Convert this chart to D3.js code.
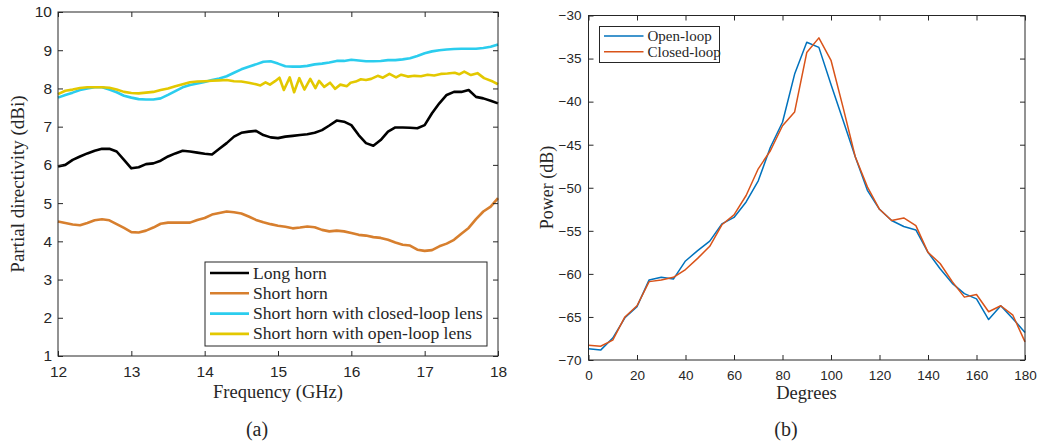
<!DOCTYPE html>
<meta charset="utf-8">
<style>
body { margin: 0; background: #fff; }
.tick text { font-family: "Liberation Sans", Arial, sans-serif; fill: #262626; }
.domain { display: none; }
.tick line { stroke: #262626; }
.lbl { font-family: "Liberation Serif", serif; fill: #262626; }
.line { fill: none; stroke-linejoin: round; }
</style>
<body>
<svg width="1037" height="445"></svg>
<script src="https://d3js.org/d3.v7.min.js"></script>
<script>

// ---- (a) partial directivity vs frequency
var freq = [12.0,12.1,12.2,12.3,12.4,12.5,12.6,12.7,12.8,12.9,
            13.0,13.1,13.2,13.3,13.4,13.5,13.6,13.7,13.8,13.9,
            14.0,14.1,14.2,14.3,14.4,14.5,14.6,14.7,14.8,14.9,
            15.0,15.1,15.2,15.3,15.4,15.5,15.6,15.7,15.8,15.9,
            16.0,16.1,16.2,16.3,16.4,16.5,16.6,16.7,16.8,16.9,
            17.0,17.1,17.2,17.3,17.4,17.5,17.6,17.7,17.8,17.9,18.0];

var longHorn = [5.96,6.00,6.13,6.22,6.30,6.37,6.42,6.42,6.35,6.13,
                5.91,5.94,6.02,6.04,6.11,6.22,6.30,6.37,6.35,6.32,
                6.29,6.27,6.42,6.57,6.74,6.84,6.87,6.89,6.78,6.72,
                6.70,6.74,6.76,6.78,6.80,6.84,6.91,7.03,7.16,7.13,
                7.04,6.78,6.57,6.50,6.65,6.87,6.98,6.98,6.97,6.96,
                7.04,7.35,7.61,7.83,7.91,7.91,7.96,7.78,7.74,7.68,7.61];

var shortHorn = [4.52,4.48,4.44,4.42,4.48,4.55,4.58,4.55,4.45,4.35,
                 4.24,4.23,4.28,4.36,4.46,4.49,4.49,4.49,4.49,4.56,
                 4.61,4.70,4.74,4.78,4.76,4.73,4.65,4.56,4.50,4.45,
                 4.41,4.38,4.34,4.36,4.39,4.37,4.30,4.26,4.28,4.26,
                 4.22,4.17,4.15,4.11,4.09,4.04,3.97,3.91,3.89,3.78,
                 3.75,3.77,3.87,3.94,4.04,4.20,4.35,4.58,4.78,4.91,5.13];

var closedLens = [7.76,7.83,7.89,7.96,8.00,8.03,8.03,7.97,7.90,7.81,
                  7.76,7.72,7.71,7.71,7.74,7.83,7.93,8.03,8.09,8.13,
                  8.17,8.22,8.26,8.32,8.41,8.50,8.57,8.63,8.70,8.71,
                  8.65,8.58,8.57,8.57,8.59,8.63,8.65,8.68,8.72,8.72,
                  8.75,8.73,8.71,8.71,8.72,8.74,8.74,8.76,8.79,8.85,
                  8.92,8.97,9.00,9.02,9.03,9.04,9.04,9.04,9.06,9.09,9.15];

// open-loop lens curve has its own, denser frequencies around the ripple
var freqOpen = [12.0,12.1,12.2,12.3,12.4,12.5,12.6,12.7,12.8,12.9,
                13.0,13.1,13.2,13.3,13.4,13.5,13.6,13.7,13.8,13.9,
                14.0,14.1,14.2,14.3,14.4,14.5,14.6,14.7,14.76,14.83,
                14.89,14.96,15.02,15.08,15.16,15.22,15.29,15.36,15.44,15.51,
                15.56,15.63,15.71,15.78,15.85,15.94,15.99,16.06,16.13,16.2,
                16.27,16.36,16.43,16.52,16.61,16.68,16.77,16.86,16.95,17.04,
                17.13,17.22,17.31,17.41,17.47,17.54,17.63,17.72,17.81,17.93,18.0];

var openLens = [7.85,7.94,7.97,8.01,8.03,8.03,8.03,8.02,7.97,7.91,
                7.88,7.87,7.89,7.91,7.96,8.00,8.06,8.11,8.16,8.18,
                8.19,8.20,8.21,8.22,8.19,8.18,8.15,8.11,8.08,8.16,
                8.10,8.19,8.28,7.96,8.29,7.90,8.27,7.97,8.25,8.01,
                8.20,8.04,8.15,7.99,8.10,8.06,8.15,8.18,8.24,8.22,
                8.25,8.33,8.28,8.38,8.29,8.36,8.31,8.33,8.32,8.36,
                8.34,8.38,8.39,8.41,8.37,8.44,8.35,8.40,8.27,8.18,8.11];

var namesA = ["Long horn", "Short horn", "Short horn with closed-loop lens", "Short horn with open-loop lens"];
var colorsA = ["#000000", "#D77F2E", "#2BCDEE", "#E3C800"];

// ---- (b) power vs angle
var degrees = [0,5,10,15,20,25,30,35,40,45,50,55,60,65,70,75,80,85,90,
               95,100,105,110,115,120,125,130,135,140,145,150,155,160,165,170,175,180];

var openLoop = [-68.7,-68.85,-67.45,-65.1,-63.8,-60.7,-60.4,-60.6,-58.5,-57.3,-56.2,-54.2,-53.45,
                -51.65,-49.2,-45.3,-42.4,-36.8,-33.1,-33.7,-38.0,-42.2,-46.4,-50.3,-52.5,
                -53.8,-54.5,-54.9,-57.5,-59.4,-61.1,-62.3,-62.9,-65.3,-63.7,-65.2,-66.8];

var closedLoop = [-68.3,-68.4,-67.7,-65.0,-63.7,-60.9,-60.7,-60.4,-59.5,-58.2,-56.8,-54.3,-53.15,
                  -50.9,-47.8,-45.7,-42.8,-41.2,-34.3,-32.6,-35.2,-40.7,-46.4,-49.9,-52.5,
                  -53.8,-53.5,-54.4,-57.5,-58.8,-60.9,-62.7,-62.4,-64.4,-63.7,-64.8,-67.9];

var namesB = ["Open-loop", "Closed-loop"];
var colorsB = ["#0072BD", "#D95319"];

var svg = d3.select("svg");

function frame(g, x, y, xt, yt, fs, padX, padY) {
  var w = x.range()[1], h = y.range()[0];
  var ax = g.append("g").attr("transform", "translate(0," + h + ")")
    .call(d3.axisBottom(x).tickValues(xt).tickSize(-5).tickPadding(padX).tickFormat(d3.format("d")));
  g.append("g").call(d3.axisTop(x).tickValues(xt).tickSize(-5).tickFormat(""));
  var ay = g.append("g").call(d3.axisLeft(y).tickValues(yt).tickSize(-5).tickPadding(padY).tickFormat(d3.format("d")));
  g.append("g").attr("transform", "translate(" + w + ",0)")
    .call(d3.axisRight(y).tickValues(yt).tickSize(-5).tickFormat(""));
  ax.selectAll("text").attr("font-size", fs + "px");
  ay.selectAll("text").attr("font-size", fs + "px");
  g.append("rect").attr("width", w).attr("height", h)
    .attr("fill", "none").attr("stroke", "#262626").attr("stroke-width", 1);
}

// panel (a)
var ga = svg.append("g").attr("transform", "translate(58,12)");
var xa = d3.scaleLinear().domain([12, 18]).range([0, 440]);
var ya = d3.scaleLinear().domain([1, 10]).range([344, 0]);

var seriesA = [
  freq.map(function(f, i) { return [f, longHorn[i]]; }),
  freq.map(function(f, i) { return [f, shortHorn[i]]; }),
  freq.map(function(f, i) { return [f, closedLens[i]]; }),
  freqOpen.map(function(f, i) { return [f, openLens[i]]; })
];
var lineA = d3.line().x(function(d) { return xa(d[0]); }).y(function(d) { return ya(d[1]); });

[1, 0, 2, 3].forEach(function(k) {
  ga.append("path").datum(seriesA[k]).attr("class", "line")
    .attr("stroke", colorsA[k]).attr("stroke-width", 2.6).attr("d", lineA);
});
frame(ga, xa, ya, d3.range(12, 19), d3.range(1, 11), 15.5, 10, 6);

var lega = ga.append("g").attr("transform", "translate(147,250)");
lega.append("rect").attr("width", 282).attr("height", 84)
  .attr("fill", "#fff").attr("stroke", "#262626").attr("stroke-width", 1);
namesA.forEach(function(n, i) {
  var yy = 11 + i * 20.3;
  lega.append("line").attr("x1", 5).attr("x2", 44).attr("y1", yy).attr("y2", yy)
    .attr("stroke", colorsA[i]).attr("stroke-width", 2.6);
  lega.append("text").attr("class", "lbl").attr("x", 48).attr("y", yy + 5.5)
    .attr("font-size", "17.6px").text(n);
});

ga.append("text").attr("class", "lbl").attr("x", 220).attr("y", 386)
  .attr("text-anchor", "middle").attr("font-size", "18.5px").text("Frequency (GHz)");
ga.append("text").attr("class", "lbl")
  .attr("transform", "translate(-34," + 172 + ") rotate(-90)")
  .attr("text-anchor", "middle").attr("font-size", "19px").text("Partial directivity (dBi)");
svg.append("text").attr("class", "lbl").attr("x", 257).attr("y", 436)
  .attr("text-anchor", "middle").attr("font-size", "20px").text("(a)");

// panel (b)
var gb = svg.append("g").attr("transform", "translate(588.5,15.5)");
var xb = d3.scaleLinear().domain([0, 180]).range([0, 436.5]);
var yb = d3.scaleLinear().domain([-70, -30]).range([344.5, 0]);

var lineB = d3.line().x(function(d, i) { return xb(degrees[i]); }).y(function(d) { return yb(d); });
[openLoop, closedLoop].forEach(function(s, k) {
  gb.append("path").datum(s).attr("class", "line")
    .attr("stroke", colorsB[k]).attr("stroke-width", 1.5).attr("d", lineB);
});
frame(gb, xb, yb, d3.range(0, 181, 20), d3.range(-70, -29, 5), 13.5, 10, 7);

var legb = gb.append("g").attr("transform", "translate(11,11)");
legb.append("rect").attr("width", 120).attr("height", 36)
  .attr("fill", "#fff").attr("stroke", "#262626").attr("stroke-width", 1);
namesB.forEach(function(n, i) {
  var yy = 9.5 + i * 15.7;
  legb.append("line").attr("x1", 4.5).attr("x2", 44).attr("y1", yy).attr("y2", yy)
    .attr("stroke", colorsB[i]).attr("stroke-width", 1.5);
  legb.append("text").attr("class", "lbl").attr("x", 48).attr("y", yy + 5)
    .attr("font-size", "15px").text(n);
});

gb.append("text").attr("class", "lbl").attr("x", 218).attr("y", 383)
  .attr("text-anchor", "middle").attr("font-size", "18.5px").text("Degrees");
gb.append("text").attr("class", "lbl")
  .attr("transform", "translate(-36," + 172 + ") rotate(-90)")
  .attr("text-anchor", "middle").attr("font-size", "18px").text("Power (dB)");
svg.append("text").attr("class", "lbl").attr("x", 786).attr("y", 436)
  .attr("text-anchor", "middle").attr("font-size", "20px").text("(b)");

</script>
</body>
